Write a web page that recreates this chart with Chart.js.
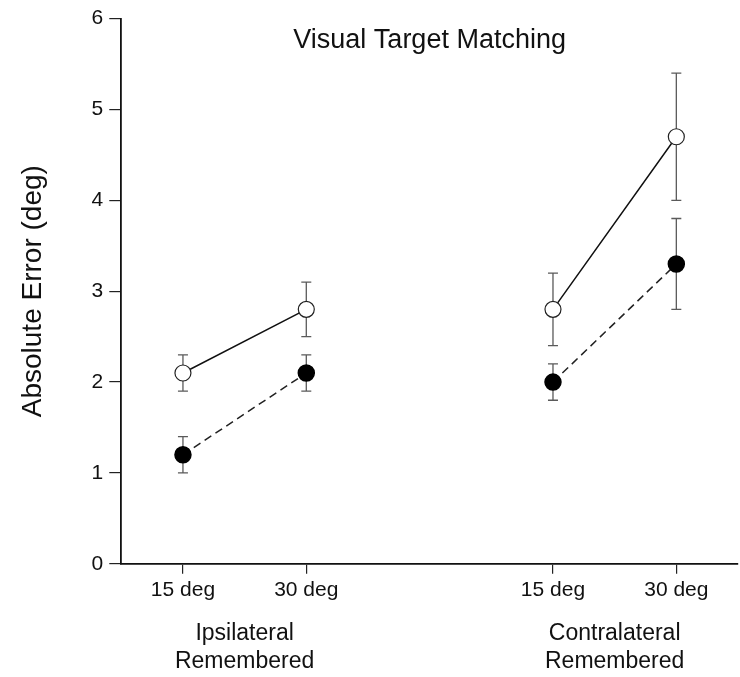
<!DOCTYPE html>
<html>
<head>
<meta charset="utf-8">
<script src="https://cdn.jsdelivr.net/npm/chart.js"></script>
<style>
  body { margin: 0; background: #fff; }
  #wrap { width: 740px; height: 677px; }
</style>
</head>
<body>
<div id="wrap"><canvas id="errChart" width="740" height="677"></canvas></div>
<script>
const xPos = [1, 2, 4, 5];
const tickLabels = ['15 deg', '30 deg', '15 deg', '30 deg'];
const groupPos = [1.5, 4.5];
const groupLabels = [['Ipsilateral', 'Remembered'], ['Contralateral', 'Remembered']];

// open circles (solid line)
const openMean = [2.1, 2.8, 2.8, 4.7];
const openErr = [0.2, 0.3, 0.4, 0.7];
// filled circles (dashed line)
const filledMean = [1.2, 2.1, 2.0, 3.3];
const filledErr = [0.2, 0.2, 0.2, 0.5];

const FONT = '"Liberation Sans", Arial, sans-serif';

// put a null between the two groups so the lines break
function toPoints(vals) {
    const pts = [];
    xPos.forEach((x, i) => {
        if (i == 2) pts.push({x: 3, y: null});
        pts.push({x: x, y: vals[i]});
    });
    return pts;
}

const errorBars = {
    id: 'errorBars',
    beforeDatasetsDraw(chart) {
        const ctx = chart.ctx;
        const xs = chart.scales.x, ys = chart.scales.y;
        const sets = [[openMean, openErr], [filledMean, filledErr]];
        ctx.save();
        ctx.strokeStyle = '#5a5a5a';
        ctx.lineWidth = 1.3;
        sets.forEach(([m, e]) => {
            xPos.forEach((xv, i) => {
                const px = xs.getPixelForValue(xv);
                const top = ys.getPixelForValue(m[i] + e[i]);
                const bot = ys.getPixelForValue(m[i] - e[i]);
                ctx.beginPath();
                ctx.moveTo(px, top); ctx.lineTo(px, bot);
                ctx.moveTo(px - 5, top); ctx.lineTo(px + 5, top);
                ctx.moveTo(px - 5, bot); ctx.lineTo(px + 5, bot);
                ctx.stroke();
            });
        });
        ctx.restore();
    }
};

const extraText = {
    id: 'extraText',
    afterDraw(chart) {
        const ctx = chart.ctx;
        const area = chart.chartArea;
        const xs = chart.scales.x;
        ctx.save();
        ctx.fillStyle = '#111';
        ctx.textAlign = 'center';
        ctx.textBaseline = 'middle';
        ctx.font = '27px ' + FONT;
        ctx.fillText('Visual Target Matching', (area.left + area.right) / 2, area.top + 22);
        ctx.font = '23px ' + FONT;
        groupPos.forEach((g, i) => {
            const px = xs.getPixelForValue(g);
            ctx.fillText(groupLabels[i][0], px, area.bottom + 70);
            ctx.fillText(groupLabels[i][1], px, area.bottom + 98);
        });
        ctx.restore();
    }
};

const config = {
    type: 'line',
    data: {
        datasets: [{
            label: 'open',
            data: toPoints(openMean),
            borderColor: '#111',
            borderWidth: 1.5,
            pointRadius: 8,
            pointBackgroundColor: '#fff',
            pointBorderColor: '#222',
            pointBorderWidth: 1.2,
            spanGaps: false,
        }, {
            label: 'filled',
            data: toPoints(filledMean),
            borderColor: '#222',
            borderWidth: 1.5,
            borderDash: [8, 5],
            pointRadius: 8,
            pointBackgroundColor: '#000',
            pointBorderColor: '#000',
            spanGaps: false,
        }]
    },
    options: {
        responsive: false,
        animation: false,
        layout: {
            autoPadding: false,
            padding: { top: 2, right: 2, bottom: 70, left: 16 }
        },
        plugins: {
            legend: { display: false },
            tooltip: { enabled: false },
        },
        scales: {
            x: {
                type: 'linear',
                min: 0.5,
                max: 5.5,
                afterBuildTicks: (axis) => {
                    axis.ticks = xPos.map(v => ({ value: v }));
                },
                afterFit: (axis) => {
                    axis.paddingLeft = 0;
                    axis.paddingRight = 0;
                },
                ticks: {
                    autoSkip: false,
                    maxRotation: 0,
                    padding: 4,
                    color: '#111',
                    font: { family: FONT, size: 21 },
                    callback: (v) => tickLabels[xPos.indexOf(v)],
                },
                grid: {
                    drawOnChartArea: false,
                    drawTicks: true,
                    tickLength: 10,
                    color: '#222',
                    lineWidth: 1.2,
                },
                border: { display: true, color: '#111', width: 1.8 },
            },
            y: {
                min: 0,
                max: 6,
                ticks: {
                    stepSize: 1,
                    padding: 6,
                    color: '#111',
                    font: { family: FONT, size: 21 },
                },
                grid: {
                    drawOnChartArea: false,
                    drawTicks: true,
                    tickLength: 12,
                    color: '#222',
                    lineWidth: 1.2,
                },
                border: { display: true, color: '#111', width: 1.8 },
                title: {
                    display: true,
                    text: 'Absolute Error (deg)',
                    color: '#111',
                    font: { family: FONT, size: 28 },
                    padding: { top: 0, bottom: 36 },
                },
            },
        },
    },
    plugins: [errorBars, extraText],
};

const errChart = new Chart(document.getElementById('errChart'), config);
</script>
</body>
</html>
